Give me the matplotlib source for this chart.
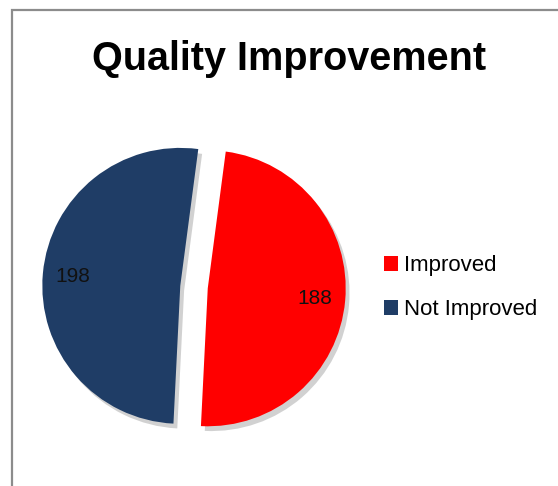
import matplotlib.pyplot as plt
from matplotlib.patches import Rectangle, Patch

# data
categories = ['Improved', 'Not Improved']
values = [188, 198]
colors = ['#FF0000', '#1F3D66']

plt.rcParams['font.family'] = ['Liberation Sans', 'DejaVu Sans']

fig = plt.figure(figsize=(5.58, 4.86), dpi=100)

# outer chart border (left and top edges visible)
fig.add_artist(Rectangle((12 / 558, -0.05), 1.0, 0.05 + 476 / 486,
                         transform=fig.transFigure, fill=False,
                         edgecolor='#8c8c8c', linewidth=1.6))

fig.text(0.518, 0.878, 'Quality Improvement', ha='center', va='center',
         fontsize=28.5, fontweight='bold')

ax = fig.add_axes([0.0262, 0.0403, 0.643, 0.738])
total = sum(values)
wedges, texts, autotexts = ax.pie(
    values, colors=colors, startangle=82.5, counterclock=False,
    explode=[0.1, 0.1], pctdistance=0.78,
    autopct=lambda p: f'{round(p * total / 100)}',
    textprops={'fontsize': 15, 'color': '#111111'},
    shadow={'ox': 0.02, 'oy': -0.025, 'facecolor': '#9a9a9a',
            'edgecolor': 'none', 'alpha': 0.45},
)
ax.set_xlim(-1.3, 1.3)
ax.set_ylim(-1.3, 1.3)
ax.set_aspect('equal')
ax.axis('off')

handles = [Patch(facecolor=c, edgecolor='none') for c in colors]
fig.legend(handles, categories, loc='center left',
           bbox_to_anchor=(0.652, 0.408), frameon=False, fontsize=16,
           handlelength=0.65, handleheight=0.65, handletextpad=0.25,
           labelspacing=1.05)

fig.savefig('out.png', dpi=100)
